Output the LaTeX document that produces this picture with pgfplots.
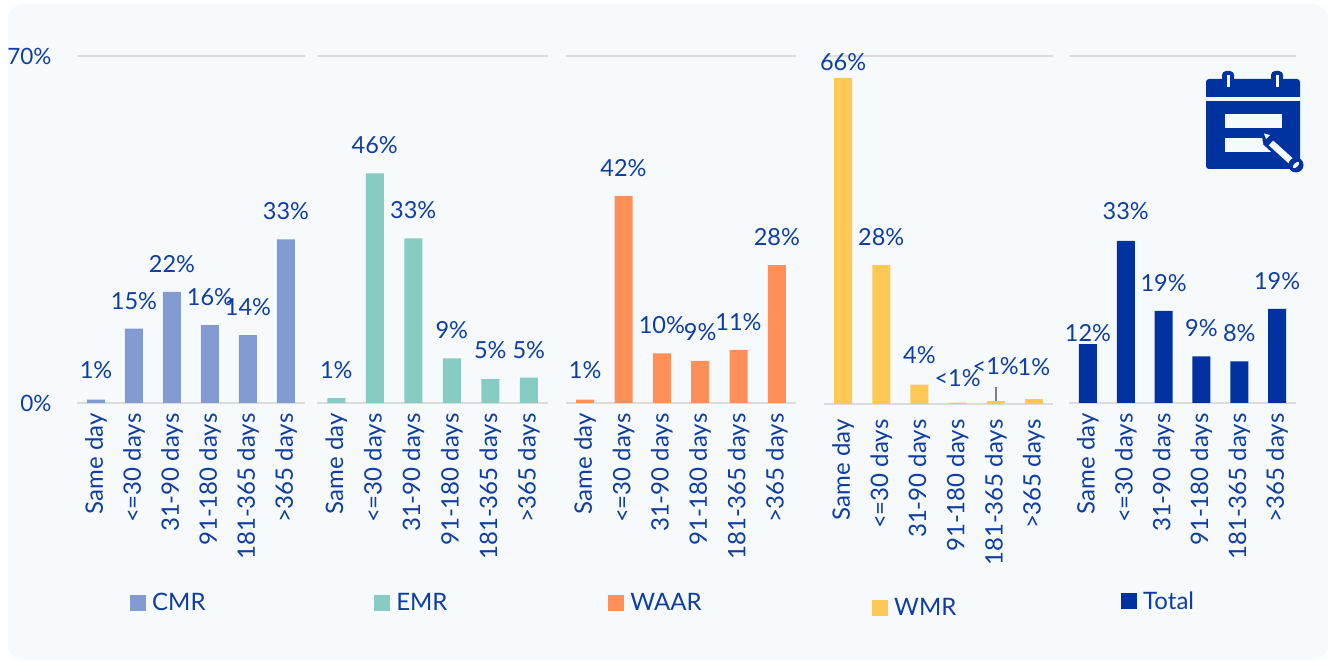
\documentclass[border=0pt]{standalone}
\usepackage{pgfplots}
\usepackage{pgfplotstable}
\usepackage{fontspec}
\setmainfont{Lato}
\pgfplotsset{compat=1.18}
\definecolor{txt}{HTML}{0F3EA0}
\definecolor{bg}{HTML}{F6FAFD}
\definecolor{gl}{HTML}{DCDCDC}
\definecolor{cmr}{HTML}{839BD3}
\definecolor{emr}{HTML}{86CCC2}
\definecolor{waar}{HTML}{FF8F59}
\definecolor{wmr}{HTML}{FFC857}
\definecolor{tot}{HTML}{0033A0}
\pgfplotstableread{
x y ly lab
0 0.7 1 1
1 15 15 15
2 22.4 22.4 22
3 15.7 15.7 16
4 13.7 13.7 14
5 33 33 33
}\cmrt
\pgfplotstableread{
x y ly lab
0 1 1 1
1 46.3 46.3 46
2 33.2 33.2 33
3 9 9 9
4 4.8 5 5
5 5.1 5 5
}\emrt
\pgfplotstableread{
x y ly lab
0 0.7 1 1
1 41.8 41.8 42
2 10 10 10
3 8.5 8.6 9
4 10.7 10.7 11
5 27.8 27.8 28
}\waart
\pgfplotstableread{
x y ly lab
0 65.6 63.2 66
1 28 28 28
2 3.9 4.2 4
3 0.3 -0.4 <1
4 0.6 2 <1
5 1 1.8 1
}\wmrt
\pgfplotstableread{
x y ly lab
0 11.9 8.5 12
1 32.7 33 33
2 18.6 18.6 19
3 9.4 9.4 9
4 8.4 8.4 8
5 19 19 19
}\tott
\pgfplotsset{
  panel/.style={
    scale only axis, anchor=south west, clip=false,
    ybar, bar width=18pt, bar shift=0pt,
    xmin=-0.5, xmax=5.5, ymin=0, ymax=70,
    axis x line=bottom, axis y line=left,
    axis line style={-, draw=gl, line width=2.5pt},
    y axis line style={draw=none},
    xtick={0,1,2,3,4,5},
    xticklabels={Same day,{<=30 days},31-90 days,91-180 days,181-365 days,>365 days},
    x tick label style={rotate=90, anchor=east, font=\fontsize{24}{26}\selectfont, text=txt},
    y tick label style={font=\fontsize{22.5}{24}\selectfont, text=txt},
    major tick length=0pt, minor tick num=0,
    ytick={0,70}, yticklabels={,},
    ymajorgrids, grid style={draw=gl, line width=2.5pt},
    legend style={draw=none, fill=none, inner sep=0pt, anchor=west, font=\fontsize{24}{26}\selectfont, text=txt, nodes={inner xsep=6pt}},
    legend cell align=left,
    legend image code/.code={\fill[##1] (0pt,-8pt) rectangle (16pt,8pt);},
  },
  lbl/.style={draw=none, fill=none, forget plot,
    point meta=explicit symbolic,
    nodes near coords={\pgfplotspointmeta\%},
    every node near coord/.append style={anchor=center, yshift=28pt, font=\fontsize{23.5}{26}\selectfont, text=txt},
  },
}
\begin{document}
\begin{tikzpicture}[x=1pt,y=1pt]
\fill[white] (0,0) rectangle (1330,661);
\fill[bg,rounded corners=16pt] (8,1) rectangle (1328,657);
% CMR
\begin{axis}[panel, at={(77pt,258pt)}, width=228pt, height=347pt,
  xticklabel shift=7pt, ytick={0,70}, yticklabels={0\%,70\%}, yticklabel shift=22pt,
  legend style={at={(0.2325,-0.5765)}}]
\addplot[fill=cmr, draw=none] table[x=x,y=y]{\cmrt};
\addlegendentry{CMR}
\addplot[lbl] table[x=x,y=ly,meta=lab]{\cmrt};
\end{axis}
% EMR
\begin{axis}[panel, at={(317pt,258pt)}, width=231pt, height=347pt,
  xticklabel shift=7pt,
  legend style={at={(0.247,-0.5765)}}]
\addplot[fill=emr, draw=none] table[x=x,y=y]{\emrt};
\addlegendentry{EMR}
\addplot[lbl] table[x=x,y=ly,meta=lab]{\emrt};
\end{axis}
% WAAR
\begin{axis}[panel, at={(566pt,258pt)}, width=230pt, height=347pt,
  xticklabel shift=7pt,
  legend style={at={(0.183,-0.5765)}}]
\addplot[fill=waar, draw=none] table[x=x,y=y]{\waart};
\addlegendentry{WAAR}
\addplot[lbl] table[x=x,y=ly,meta=lab]{\waart};
\end{axis}
% WMR
\begin{axis}[panel, at={(824pt,257pt)}, width=229pt, height=348pt,
  xticklabel shift=12pt,
  legend style={at={(0.2096,-0.586)}}]
\addplot[fill=wmr, draw=none] table[x=x,y=y]{\wmrt};
\addlegendentry{WMR}
\addplot[lbl] table[x=x,y=ly,meta=lab]{\wmrt};
\draw[gray, line width=1.5pt] (axis cs:4,0.6) -- (axis cs:4,3.4);
\end{axis}
% Total
\begin{axis}[panel, at={(1069pt,258pt)}, width=227pt, height=347pt,
  xticklabel shift=7pt,
  legend style={at={(0.2291,-0.5706)}}]
\addplot[fill=tot, draw=none] table[x=x,y=y]{\tott};
\addlegendentry{Total}
\addplot[lbl] table[x=x,y=ly,meta=lab]{\tott};
\end{axis}
% calendar icon
\begin{scope}[yscale=-1, yshift=-661pt]
\fill[tot, rounded corners=3pt] (1206,79) rectangle (1300,169);
\fill[bg] (1206,97.5) rectangle (1300,101.5);
\fill[tot, rounded corners=4pt] (1222,71) rectangle (1234,86);
\fill[tot, rounded corners=4pt] (1271,71) rectangle (1283,86);
\fill[bg] (1226.5,75) rectangle (1229.5,87);
\fill[bg] (1275.5,75) rectangle (1278.5,87);
\fill[bg] (1224.5,114) rectangle (1281.5,128);
\fill[bg] (1224.5,138.5) rectangle (1272,152.5);
\fill[tot] (1261,131) -- (1274,134.5) -- (1263.5,145) -- cycle;
\draw[tot, line width=13pt] (1268,140) -- (1295,165);
\draw[bg, line width=6.5pt] (1271,143) -- (1292,162);
\fill[bg] (1264,133.5) -- (1270,135) -- (1266,139) -- cycle;
\fill[tot] (1296,165) circle (7.5pt);
\fill[bg, rotate around={45:(1296,165)}] (1296,165) ellipse (2pt and 4pt);
\end{scope}
\end{tikzpicture}
\end{document}
